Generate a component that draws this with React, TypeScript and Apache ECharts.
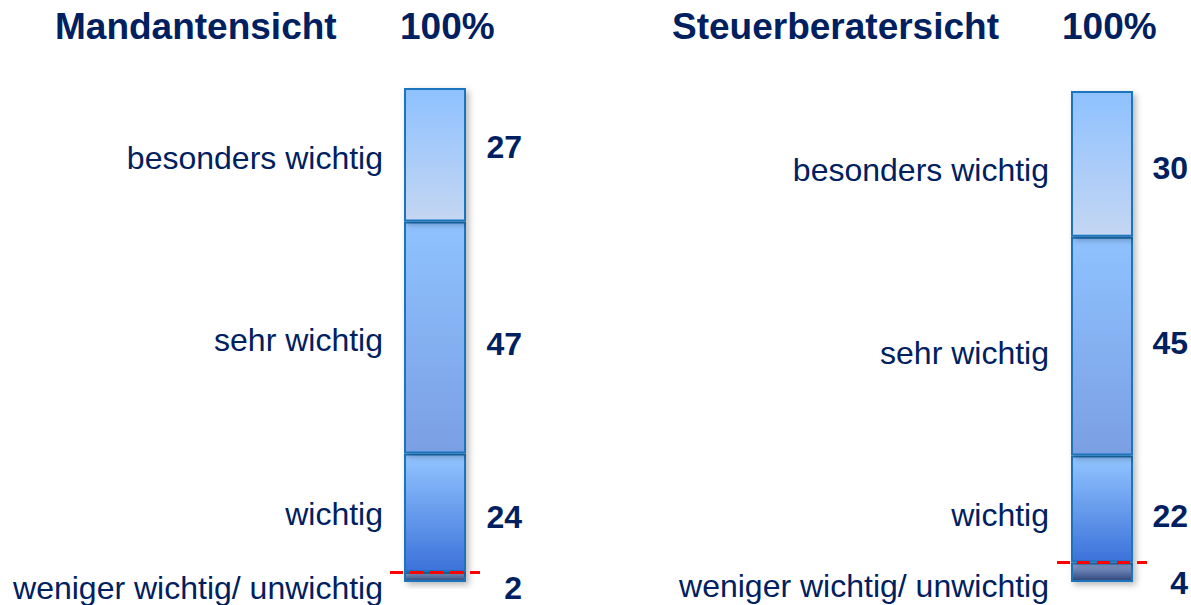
import React, { useEffect, useRef } from 'react';
import * as echarts from 'echarts';

// Data (bottom to top)
const categories = ['weniger wichtig/ unwichtig', 'wichtig', 'sehr wichtig', 'besonders wichtig'];
const mandantValues = [2, 24, 47, 27];
const steuerValues = [4, 22, 45, 30];
const panelTitles = ['Mandantensicht', 'Steuerberatersicht'];
const totalLabel = '100%';

const TEXT = '#002060';
const FONT = '"Liberation Sans", Arial, sans-serif';

const gradients: [string, string][] = [
  ['#8EA6DA', '#2E4478'],
  ['#92C5FF', '#3C72DA'],
  ['#8FC2FF', '#7A9FE3'],
  ['#8EC1FF', '#C4D6F2'],
];

const panels = [
  {
    values: mandantValues,
    grid: { left: 390, width: 90, top: 88, height: 494 },
    nameOffsets: [11, 1, 3, 3],
    valueOffsets: [11, 4, 7, -8],
    nameX: -21,
    valueX: 118,
    titleX: 55,
    totalX: 400,
  },
  {
    values: steuerValues,
    grid: { left: 1057, width: 90, top: 91, height: 491 },
    nameOffsets: [14, 6, 7, 6],
    valueOffsets: [11, 7, -3, 4],
    nameX: -22,
    valueX: 117,
    titleX: 672,
    totalX: 1062,
  },
];

export default function App() {
  const ref = useRef<HTMLDivElement>(null);
  useEffect(() => {
    if (!ref.current) return;
    const chart = echarts.init(ref.current, null, { renderer: 'svg' });
    const series: any[] = [];
    panels.forEach((p, pi) => {
      p.values.forEach((v, i) => {
        const s: any = {
          type: 'bar',
          name: categories[i],
          stack: 'v' + pi,
          xAxisIndex: pi,
          yAxisIndex: pi,
          barWidth: 62,
          barGap: '-100%',
          data: [{ value: v, label: { offset: [0, p.valueOffsets[i]] } }],
          itemStyle: {
            color: new echarts.graphic.LinearGradient(0, 0, 0, 1, [
              { offset: 0, color: gradients[i][0] },
              { offset: 1, color: gradients[i][1] },
            ]),
            borderColor: '#1A74BC',
            borderWidth: 2,
            shadowBlur: 6,
            shadowColor: 'rgba(0,0,0,0.28)',
            shadowOffsetX: 3,
            shadowOffsetY: 3,
          },
          label: {
            show: true,
            position: [p.valueX, '50%'],
            align: 'right',
            verticalAlign: 'middle',
            fontSize: 32,
            lineHeight: 24,
            fontWeight: 'bold',
            fontFamily: FONT,
            color: TEXT,
            formatter: '{c}',
          },
          silent: true,
        };
        if (i === 0) {
          s.markLine = {
            silent: true,
            symbol: 'none',
            label: { show: false },
            lineStyle: { color: '#FF0000', type: [13, 7], width: 3 },
            data: [{ yAxis: v }],
          };
        }
        series.push(s);
        series.push({
          type: 'bar',
          name: categories[i] + ' label',
          stack: 'n' + pi,
          xAxisIndex: pi,
          yAxisIndex: pi,
          barWidth: 62,
          barGap: '-100%',
          data: [{ value: v, label: { offset: [0, p.nameOffsets[i]] } }],
          itemStyle: { color: 'transparent' },
          label: {
            show: true,
            position: [p.nameX, '50%'],
            align: 'right',
            verticalAlign: 'middle',
            fontSize: 32,
            lineHeight: 26,
            fontFamily: FONT,
            color: TEXT,
            formatter: () => categories[i],
          },
          silent: true,
          z: 3,
        });
      });
    });

    const graphics: any[] = [];
    panels.forEach((p, pi) => {
      graphics.push({
        type: 'text',
        left: p.titleX,
        top: 8,
        style: { text: panelTitles[pi], fontSize: 37, fontWeight: 'bold', fontFamily: FONT, fill: TEXT },
      });
      graphics.push({
        type: 'text',
        left: p.totalX,
        top: 8,
        style: { text: totalLabel, fontSize: 37, fontWeight: 'bold', fontFamily: FONT, fill: TEXT },
      });
    });

    chart.setOption({
      animation: false,
      backgroundColor: '#ffffff',
      grid: panels.map((p) => ({ ...p.grid, containLabel: false })),
      xAxis: panels.map((_, pi) => ({ type: 'category', gridIndex: pi, data: [''], show: false })),
      yAxis: panels.map((p, pi) => ({
        type: 'value',
        gridIndex: pi,
        min: 0,
        max: p.values.reduce((a, b) => a + b, 0),
        show: false,
      })),
      series,
      graphic: graphics,
    });
    return () => chart.dispose();
  }, []);
  return <div ref={ref} style={{ position: 'fixed', left: 0, top: 0, width: 1191, height: 605 }} />;
}
